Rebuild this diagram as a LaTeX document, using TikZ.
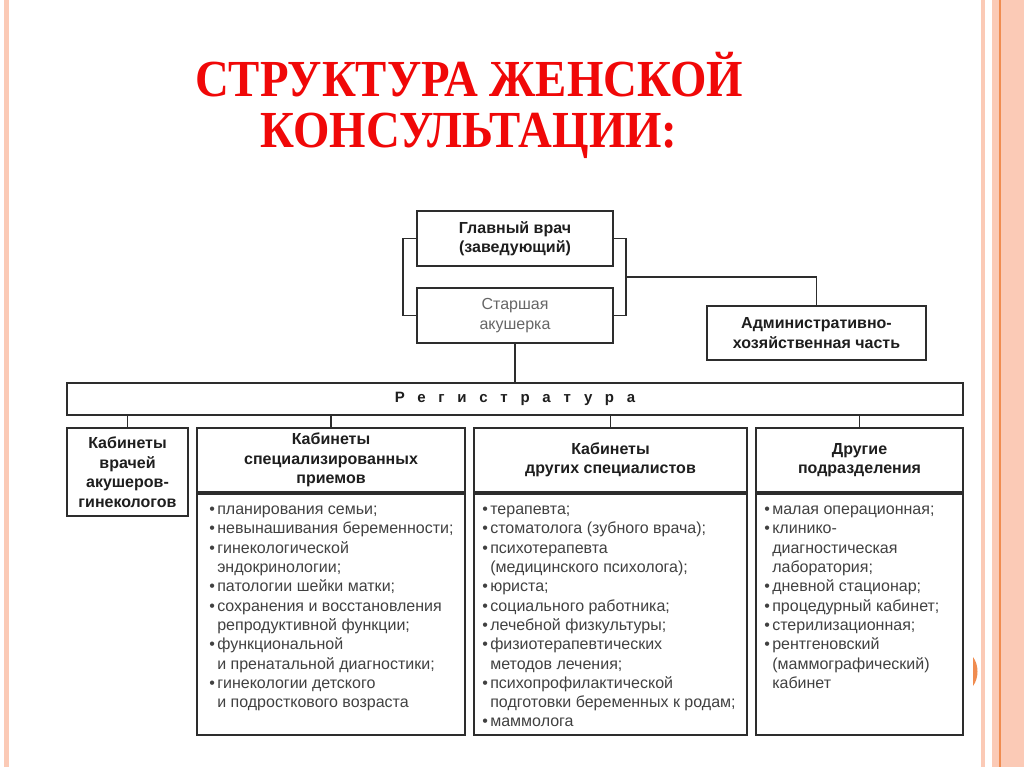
\documentclass[tikz,border=0pt]{standalone}
\usepackage{fontspec}
\setmainfont{Liberation Sans}
\newfontfamily\titlefont[FakeStretch=0.9]{Liberation Serif}
\newfontfamily\regfont[LetterSpace=85]{Liberation Sans}
\usetikzlibrary{positioning}
\definecolor{peach}{RGB}{251, 202, 182}
\definecolor{tangerine}{RGB}{240, 140, 80}
\definecolor{scarlet}{RGB}{240, 8, 8}
\definecolor{frame}{RGB}{45, 45, 45}
\definecolor{ink}{RGB}{30, 30, 30}
\definecolor{listink}{RGB}{65, 65, 65}
\newcommand{\itemdot}{\strut\makebox[8pt][l]{•}}
\newcommand{\itemgap}{\hspace*{8pt}}
\tikzset{
  unit/.style={draw=frame, line width=1.8pt, fill=white, inner sep=0pt, align=center, text=ink,
    font=\fontsize{16}{19.5}\selectfont\bfseries},
  listtext/.style={anchor=north west, inner sep=0pt, align=left, text=listink,
    font=\fontsize{16}{19.3}\selectfont},
  title/.style={anchor=base, inner sep=0pt, text=scarlet, font=\titlefont\fontsize{52}{51}\selectfont\bfseries},
  link/.style={draw=frame, line width=1.8pt}
}

\begin{document}
\begin{tikzpicture}[x=1pt, y=-1pt]
            \useasboundingbox (0,0) rectangle (1024,767);
            \fill[white]     (0,0)   rectangle (1024,767);
            \fill[peach]     (4,0)   rectangle (9,767);
            \fill[peach]     (981,0) rectangle (985,767);
            \fill[peach]     (992,0) rectangle (1024,767);
            \draw[tangerine, line width=1.2pt] (1000,0) -- (1000,767);
            \fill[tangerine] (973,657) .. controls (979,665) and (979,678) .. (973,686) -- cycle;

            \node[title] (head)  at (469, 97) {СТРУКТУРА ЖЕНСКОЙ};
            \node[title] (head2) at (469,148) {КОНСУЛЬТАЦИИ:};

            \node[unit, minimum width=196pt, minimum height=55pt] (glav)   at (515,238.5) {Главный врач\\(заведующий)};
            \node[unit, minimum width=196pt, minimum height=55pt, text=black!60,
                  font=\fontsize{16}{19.5}\selectfont]            (starsh) at (515,315.5) {Старшая\\акушерка};
            \node[unit, minimum width=219pt, minimum height=54pt] (adm)    at (816.5,333) {Административно-\\хозяйственная часть};
            \node[unit, minimum width=896pt, minimum height=32pt] (reg)    at (515,399) {\regfont\bfseries\fontsize{15}{18}\selectfont Регистратура};

            \node[unit, minimum width=121pt, minimum height=88pt] (vrach)  at (127.5,472) {Кабинеты\\врачей\\акушеров-\\гинекологов};
            \node[unit, minimum width=268pt, minimum height=64pt] (spech)  at (331,460)   {Кабинеты\\специализированных\\приемов};
            \node[unit, minimum width=273pt, minimum height=64pt] (drh)    at (610.5,460) {Кабинеты\\других специалистов};
            \node[unit, minimum width=207pt, minimum height=64pt] (podrh)  at (859.5,460) {Другие\\подразделения};
            \node[unit, minimum width=268pt, minimum height=241pt, below=0pt of spech] (speclist)  {};
            \node[unit, minimum width=273pt, minimum height=241pt, below=0pt of drh]   (drlist)    {};
            \node[unit, minimum width=207pt, minimum height=241pt, below=0pt of podrh] (podrlist)  {};

            \node[listtext] (spectext) at ([xshift=13pt, yshift=-8pt]speclist.north west)
                 {\itemdot планирования семьи;\\ \itemdot невынашивания беременности;\\
                  \itemdot гинекологической\\ \itemgap эндокринологии;\\ \itemdot патологии шейки матки;\\
                  \itemdot сохранения и восстановления\\ \itemgap репродуктивной функции;\\
                  \itemdot функциональной\\ \itemgap и пренатальной диагностики;\\
                  \itemdot гинекологии детского\\ \itemgap и подросткового возраста};
            \node[listtext] (drtext) at ([xshift=9pt, yshift=-8pt]drlist.north west)
                 {\itemdot терапевта;\\ \itemdot стоматолога (зубного врача);\\
                  \itemdot психотерапевта\\ \itemgap (медицинского психолога);\\ \itemdot юриста;\\
                  \itemdot социального работника;\\ \itemdot лечебной физкультуры;\\
                  \itemdot физиотерапевтических\\ \itemgap методов лечения;\\
                  \itemdot психопрофилактической\\ \itemgap подготовки беременных к родам;\\
                  \itemdot маммолога};
            \node[listtext] (podrtext) at ([xshift=9pt, yshift=-8pt]podrlist.north west)
                 {\itemdot малая операционная;\\ \itemdot клинико-\\ \itemgap диагностическая\\ \itemgap лаборатория;\\
                  \itemdot дневной стационар;\\ \itemdot процедурный кабинет;\\ \itemdot стерилизационная;\\
                  \itemdot рентгеновский\\ \itemgap (маммографический)\\ \itemgap кабинет};

            \coordinate (split) at (627,277);
            \draw[link] (glav.west) -- ++(-13,0) |- (starsh.west);
            \draw[link] (glav.east) -- ++(12,0)  |- (starsh.east);
            \draw[link] (split) -| (adm.north);
            \draw[link] (starsh.south) -- (starsh.south |- reg.north);
            \foreach \b in {vrach, spech, drh, podrh}
                \draw[link] (\b.north |- reg.south) -- (\b.north);
\end{tikzpicture}
\end{document}
